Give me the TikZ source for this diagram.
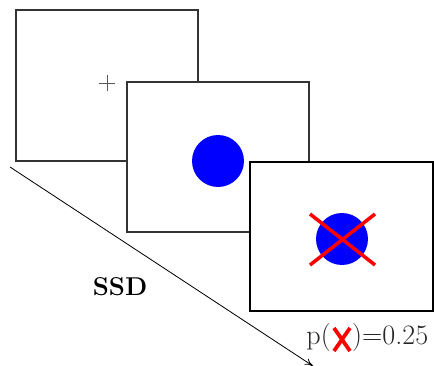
\documentclass[tikz,border=0pt]{standalone}
\usetikzlibrary{arrows.meta}

\begin{document}
\begin{tikzpicture}[x=0.03cm, y=-0.03cm, >={To[length=7pt,width=6pt]}]
			\useasboundingbox (0,0) rectangle (434,366);
			% 注视点画面
			\draw[line width=1.1pt, black!80, fill=white] (16,10) rectangle (198,161);
			\coordinate (plus) at (107,83);
			\draw[black!65, line width=0.6pt] ([xshift=-7]plus) -- ([xshift=7]plus);
			\draw[black!65, line width=0.6pt] ([yshift=-7]plus) -- ([yshift=7]plus);
			% 目标画面
			\draw[line width=1.1pt, black!80, fill=white] (127,82) rectangle (309,232);
			\fill[blue] (218,161) circle (26);
			% 停止信号画面
			\draw[line width=1.6pt, black, fill=white] (250,162) rectangle (433,311);
			\fill[blue] (342,239) circle (26);
			\draw[red, line width=3pt] (310,214) -- (375,265);
			\draw[red, line width=3pt] (310,265) -- (375,214);
			% 时间轴
			\coordinate (t0) at (10,167);
			\coordinate (t1) at (313,366);
			\draw[->, line width=0.7pt] (t0) -- (t1);
			\node[font=\bfseries\fontsize{22}{22}\selectfont] (ssd) at (120,287) {SSD};
			% 概率标注
			\node[anchor=base east, inner sep=0pt, black!85, font=\fontsize{24}{24}\selectfont] (pl) at (331,345) {p(};
			\node[anchor=base west, inner sep=0pt, black!85, font=\fontsize{24}{24}\selectfont] (pr) at (352,345) {)=0.25};
			\draw[red, line width=3.2pt] (334,328) -- (350,351);
			\draw[red, line width=3.2pt] (334,351) -- (350,328);
		\end{tikzpicture}
\end{document}
